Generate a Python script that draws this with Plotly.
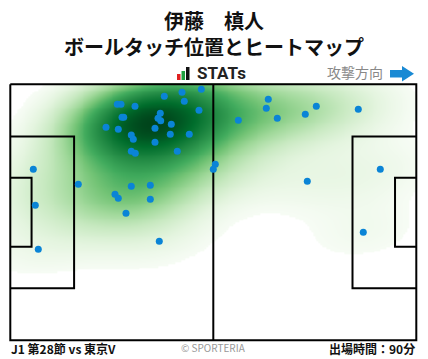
import numpy as np
import plotly.graph_objects as go

# ---- data (pitch metres, x: 0-105 left->right, y: 0-68 top->bottom) ----
touch_x = [27.67, 28.63, 32.25, 39.83, 44.41, 49.40, 45.00, 48.80, 38.79, 38.20,
           38.90, 28.89, 29.33, 24.75, 27.93, 41.64, 37.42, 41.38, 46.29, 31.29,
           31.81, 37.42, 31.29, 32.33, 43.19, 53.02, 52.50, 5.95, 17.59, 31.29,
           36.21, 27.08, 27.93, 36.21, 6.47, 29.92, 38.53, 7.24, 66.72, 66.21,
           58.97, 69.05, 76.29, 79.14, 90.00, 95.69, 76.81, 91.29]
touch_y = [5.31, 5.31, 5.84, 3.19, 2.13, 1.33, 4.52, 6.91, 7.70, 9.03,
           9.67, 8.77, 8.77, 11.42, 11.95, 10.63, 11.69, 13.28, 13.28, 13.47,
           14.61, 15.41, 17.80, 18.33, 17.80, 21.25, 22.58, 22.58, 26.56, 27.09,
           26.83, 29.22, 30.28, 30.55, 32.14, 34.27, 41.70, 43.83, 3.98, 6.38,
           9.56, 9.03, 7.97, 5.84, 6.64, 22.58, 25.77, 39.31]

player_name = "伊藤　槙人"
chart_title = "ボールタッチ位置とヒートマップ"
match_label = "J1 第28節 vs 東京V"
minutes_label = "出場時間：90分"
direction_label = "攻撃方向"

PITCH_L, PITCH_W = 105.0, 68.0
BW_ADJUST = 1.12
THRESH = 0.045

# ---- KDE (Scott's rule, full covariance) ----
pts = np.vstack([touch_x, touch_y])
n = pts.shape[1]
factor = n ** (-1.0 / 6.0) * BW_ADJUST
cov = np.cov(pts) * factor ** 2
inv = np.linalg.inv(cov)

def kde(gx, gy):
    X, Y = np.meshgrid(gx, gy)
    dens = np.zeros_like(X)
    for px, py in pts.T:
        dx = X - px
        dy = Y - py
        q = inv[0, 0] * dx * dx + 2 * inv[0, 1] * dx * dy + inv[1, 1] * dy * dy
        dens += np.exp(-0.5 * q)
    return dens

# iso-proportion levels (like seaborn) computed on an extended grid
bw = np.sqrt(np.diag(cov))
ex = np.linspace(min(touch_x) - 3 * bw[0], max(touch_x) + 3 * bw[0], 320)
ey = np.linspace(min(touch_y) - 3 * bw[1], max(touch_y) + 3 * bw[1], 320)
flat = np.sort(kde(ex, ey).ravel())
cum = np.cumsum(flat)
cum = cum / cum[-1]

gx = np.linspace(0, PITCH_L, 211)
gy = np.linspace(0, PITCH_W, 137)
dens = kde(gx, gy)
prop = np.interp(dens, flat, cum)
z = np.where(prop >= THRESH, prop, np.nan)

greens = ["#f7fcf5", "#e5f5e0", "#c7e9c0", "#a1d99b", "#74c476",
          "#41ab5d", "#238b45", "#006d2c", "#00441b"]
cscale = [[i / (len(greens) - 1), c] for i, c in enumerate(greens)]

fig = go.Figure()
fig.add_trace(go.Heatmap(x=gx, y=gy, z=z, colorscale=cscale, zmin=THRESH, zmax=1.0,
                         showscale=False, hoverinfo="skip", zsmooth="best"))

# ---- pitch lines ----
pb_d, pb_w = 16.5, 40.32
ga_d, ga_w = 5.5, 18.32
cy = PITCH_W / 2
line_paths = [
    ([0, PITCH_L, PITCH_L, 0, 0], [0, 0, PITCH_W, PITCH_W, 0]),
    ([PITCH_L / 2, PITCH_L / 2], [0, PITCH_W]),
    ([0, pb_d, pb_d, 0], [cy - pb_w / 2, cy - pb_w / 2, cy + pb_w / 2, cy + pb_w / 2]),
    ([0, ga_d, ga_d, 0], [cy - ga_w / 2, cy - ga_w / 2, cy + ga_w / 2, cy + ga_w / 2]),
    ([PITCH_L, PITCH_L - pb_d, PITCH_L - pb_d, PITCH_L], [cy - pb_w / 2, cy - pb_w / 2, cy + pb_w / 2, cy + pb_w / 2]),
    ([PITCH_L, PITCH_L - ga_d, PITCH_L - ga_d, PITCH_L], [cy - ga_w / 2, cy - ga_w / 2, cy + ga_w / 2, cy + ga_w / 2]),
]
for xs, ys in line_paths:
    fig.add_trace(go.Scatter(x=xs, y=ys, mode="lines", line=dict(color="#000000", width=2),
                             hoverinfo="skip", showlegend=False))

fig.add_trace(go.Scatter(x=touch_x, y=touch_y, mode="markers",
                         marker=dict(color="#0a84d6", size=7), hoverinfo="skip", showlegend=False))

FONT = "Noto Sans CJK JP"
W, H = 428, 359
ml, mr, mt, mb = 8, 10, 82, 17
pw, ph = W - ml - mr, H - mt - mb
def pap_x(xp):
    return (xp - ml) / pw
def pap_y(yp):
    return 1 - (yp - mt) / ph

def text_at(xp, yp, text, size, color, xanchor="center", family=FONT, height=None):
    fig.add_annotation(x=pap_x(xp), y=pap_y(yp), xref="paper", yref="paper", text=text,
                       showarrow=False, xanchor=xanchor, yanchor="middle", height=height,
                       font=dict(family=family, size=size, color=color))

text_at(214, 20.5, "<b>" + player_name + "</b>", 20, "#111111", height=24)
text_at(214, 46, "<b>" + chart_title + "</b>", 20, "#111111", height=24)
text_at(195, 73, "<b>STATs</b>", 17, "#222222", xanchor="left", family="Roboto")
text_at(325, 72, direction_label, 14, "#888888", xanchor="left")
text_at(9, 348, "<b>" + match_label + "</b>", 12, "#111111", xanchor="left")
text_at(213, 347, "© SPORTERIA", 10, "#999999")
text_at(417, 348, "<b>" + minutes_label + "</b>", 12, "#111111", xanchor="right")

# logo bars and arrow (decoration)
def rect(x0, y0, x1, y1, color):
    fig.add_shape(type="rect", xref="paper", yref="paper", x0=pap_x(x0), x1=pap_x(x1),
                  y0=pap_y(y1), y1=pap_y(y0), line=dict(width=0), fillcolor=color)
rect(177, 74, 180.5, 80, "#e02020")
rect(181.5, 71, 185, 80, "#22a040")
rect(186, 67, 189.5, 80, "#111111")
rect(390, 70, 403, 77.5, "#1a8ad4")
fig.add_shape(type="path", xref="paper", yref="paper",
              path=f"M {pap_x(402)} {pap_y(66)} L {pap_x(414)} {pap_y(73.7)} L {pap_x(402)} {pap_y(81.5)} Z",
              line=dict(width=0), fillcolor="#1a8ad4")

x_lo = (ml - 10.3) / (406 / 105)
x_hi = (W - mr - 10.3) / (406 / 105)
y_lo = (mt - 84.3) / (256 / 68)
y_hi = (H - mb - 84.3) / (256 / 68)

fig.update_layout(
    width=W, height=H, margin=dict(l=ml, r=mr, t=mt, b=mb),
    paper_bgcolor="white", plot_bgcolor="white", showlegend=False,
    xaxis=dict(range=[x_lo, x_hi], visible=False, fixedrange=True),
    yaxis=dict(range=[y_hi, y_lo], visible=False, fixedrange=True),
)

fig.write_html("out.html", config={"displayModeBar": False},
               post_script="document.body.style.margin='0';document.body.style.overflow='hidden';")
